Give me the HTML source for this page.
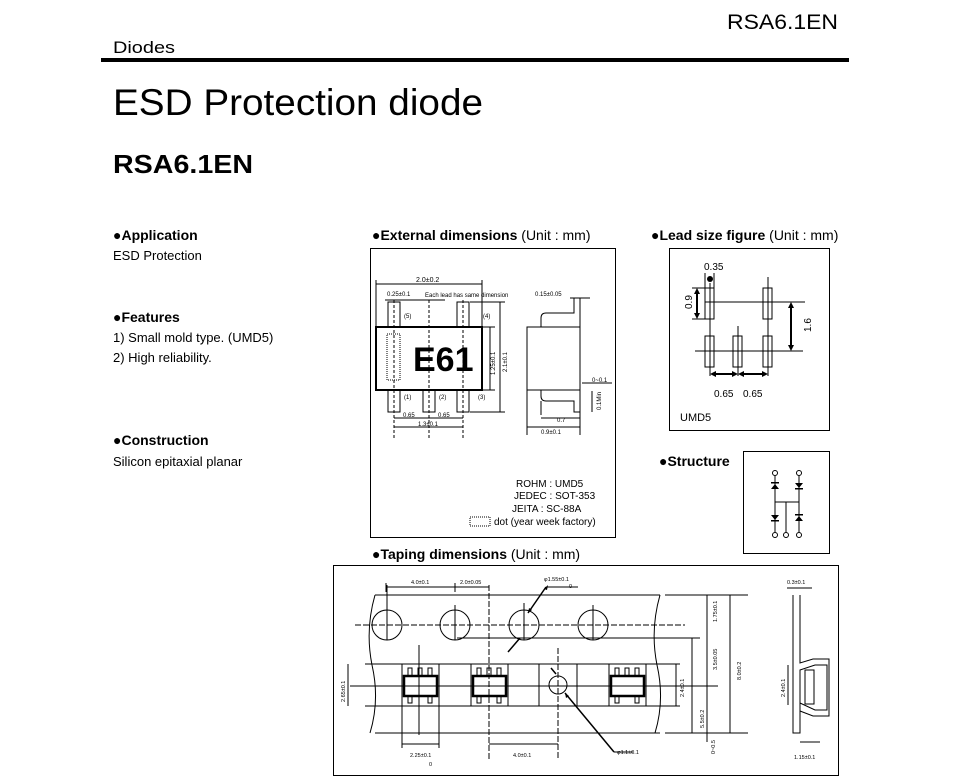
<!DOCTYPE html>
<html><head><meta charset="utf-8"><style>
html,body{margin:0;padding:0;background:#fff}
svg{display:block}
text{font-family:"Liberation Sans",Arial,sans-serif;fill:#000}
</style></head><body>
<svg width="964" height="782" viewBox="0 0 964 782" xmlns="http://www.w3.org/2000/svg">
<!-- header -->
<text x="727" y="29" font-size="21" textLength="111" lengthAdjust="spacingAndGlyphs">RSA6.1EN</text>
<text x="113" y="53" font-size="17" textLength="62" lengthAdjust="spacingAndGlyphs">Diodes</text>
<rect x="101" y="58" width="748" height="4" fill="#000"/>
<text x="113" y="115" font-size="37" textLength="370" lengthAdjust="spacingAndGlyphs">ESD Protection diode</text>
<text x="113" y="173" font-size="26" font-weight="bold" textLength="140" lengthAdjust="spacingAndGlyphs">RSA6.1EN</text>

<!-- left column -->
<g font-size="14">
<text x="113" y="240" font-weight="bold">●Application</text>
<text x="113" y="260" font-size="13">ESD Protection</text>
<text x="113" y="322" font-weight="bold">●Features</text>
<text x="113" y="342" font-size="13">1) Small mold type. (UMD5)</text>
<text x="113" y="362" font-size="13">2) High reliability.</text>
<text x="113" y="445" font-weight="bold">●Construction</text>
<text x="113" y="466" font-size="13">Silicon epitaxial planar</text>
<text x="372" y="240"><tspan font-weight="bold">●External dimensions</tspan> (Unit : mm)</text>
<text x="651" y="240"><tspan font-weight="bold">●Lead size figure</tspan> (Unit : mm)</text>
<text x="659" y="466" font-weight="bold">●Structure</text>
<text x="372" y="559"><tspan font-weight="bold">●Taping dimensions</tspan> (Unit : mm)</text>
</g>

<!-- External dimensions -->
<rect x="370.5" y="248.5" width="245" height="289" fill="none" stroke="#000"/>
<g stroke="#000" fill="none" stroke-width="1">
<rect x="376" y="327" width="106" height="63" stroke-width="2"/>
<rect x="388" y="302" width="12" height="25"/>
<rect x="457" y="302" width="12" height="25"/>
<rect x="388" y="390" width="12" height="22"/>
<rect x="423" y="390" width="12" height="22"/>
<rect x="457" y="390" width="12" height="22"/>
<rect x="387" y="334" width="13" height="46" stroke-dasharray="1,1"/>
<line x1="394" y1="300" x2="394" y2="440" stroke-dasharray="3,2"/>
<line x1="429" y1="300" x2="429" y2="440" stroke-dasharray="3,2"/>
<line x1="463" y1="300" x2="463" y2="440" stroke-dasharray="3,2"/>
<line x1="376" y1="284" x2="482" y2="284"/>
<line x1="376" y1="280" x2="376" y2="327"/><line x1="482" y1="280" x2="482" y2="327"/>
<line x1="385" y1="300" x2="445" y2="300"/>
<line x1="470" y1="302" x2="505" y2="302"/>
<line x1="490" y1="327" x2="490" y2="390"/>
<line x1="500" y1="302" x2="500" y2="412"/>
<line x1="482" y1="327" x2="495" y2="327"/><line x1="482" y1="390" x2="495" y2="390"/>
<line x1="470" y1="412" x2="505" y2="412"/>
<line x1="394" y1="418" x2="463" y2="418"/>
<line x1="394" y1="427" x2="463" y2="427"/>
<!-- side view -->
<path d="M527 327 L580 327 L580 390 L527 390 Z"/>
<path d="M541 327 L541 318 Q541 313 546 313 L574 313 L574 298 L580 298 L580 327"/>
<path d="M541 390 L541 396 Q541 401 546 401 L574 401 L574 412 L580 412 L580 390"/>
<line x1="541" y1="401" x2="541" y2="415"/>
<line x1="527" y1="390" x2="527" y2="435"/>
<line x1="580" y1="412" x2="580" y2="435"/>
<line x1="541" y1="418" x2="580" y2="418"/>
<line x1="527" y1="427" x2="580" y2="427"/>
<line x1="570" y1="298" x2="590" y2="298"/>
<line x1="592" y1="391" x2="592" y2="412"/>
<line x1="582" y1="383" x2="612" y2="383"/>
</g>
<g font-size="6">
<text x="416" y="282" font-size="7">2.0±0.2</text>
<text x="387" y="296">0.25±0.1</text>
<text x="425" y="297">Each lead has same dimension</text>
<text x="404" y="318">(5)</text><text x="483" y="318">(4)</text>
<text x="404" y="399">(1)</text><text x="439" y="399">(2)</text><text x="478" y="399">(3)</text>
<text x="403" y="417">0.65</text><text x="438" y="417">0.65</text>
<text x="418" y="426">1.3±0.1</text>
<text x="535" y="296">0.15±0.05</text>
<text x="592" y="382">0~0.1</text>
<text x="557" y="422">0.7</text>
<text x="541" y="434">0.9±0.1</text>
<text transform="translate(495,375) rotate(-90)">1.25±0.1</text>
<text transform="translate(507,372) rotate(-90)">2.1±0.1</text>
<text transform="translate(601,410) rotate(-90)">0.1Min</text>
</g>
<text x="413" y="371" font-size="34" font-weight="bold">E61</text>
<g font-size="10">
<text x="516" y="487">ROHM : UMD5</text>
<text x="514" y="499">JEDEC : SOT-353</text>
<text x="512" y="512">JEITA : SC-88A</text>
<text x="494" y="525">dot (year week factory)</text>
</g>
<rect x="470" y="517" width="20" height="9" fill="none" stroke="#000" stroke-dasharray="1,1"/>

<!-- Lead size -->
<rect x="669.5" y="248.5" width="160" height="182" fill="none" stroke="#000"/>
<g stroke="#000" fill="none">
<rect x="705" y="288" width="9" height="31"/>
<rect x="763" y="288" width="9" height="31"/>
<rect x="705" y="336" width="9" height="31"/>
<rect x="733" y="336" width="9" height="31"/>
<rect x="763" y="336" width="9" height="31"/>
<line x1="710" y1="283" x2="710" y2="376"/>
<line x1="768" y1="277" x2="768" y2="376"/>
<line x1="738" y1="326" x2="738" y2="376"/>
<line x1="705" y1="302" x2="805" y2="302"/>
<line x1="695" y1="351" x2="803" y2="351"/>
<line x1="692" y1="288" x2="705" y2="288"/><line x1="692" y1="319" x2="705" y2="319"/>
<line x1="705" y1="273" x2="705" y2="288"/><line x1="714" y1="273" x2="714" y2="288"/>
</g>
<g stroke="#000" stroke-width="2">
<line x1="697" y1="291" x2="697" y2="316"/>
<line x1="791" y1="305" x2="791" y2="348"/>
<line x1="713" y1="374" x2="735" y2="374"/>
<line x1="741" y1="374" x2="765" y2="374"/>
</g>
<g fill="#000">
<path d="M697 288 l-3 6 h6z"/><path d="M697 319 l-3 -6 h6z"/>
<path d="M791 302 l-3 6 h6z"/><path d="M791 351 l-3 -6 h6z"/>
<path d="M710 374 l6 -3 v6z"/><path d="M738 374 l-6 -3 v6z"/>
<path d="M738 374 l6 -3 v6z"/><path d="M768 374 l-6 -3 v6z"/>
<circle cx="710" cy="279" r="3"/>
</g>
<g font-size="10">
<text x="704" y="270">0.35</text>
<text x="714" y="397">0.65</text><text x="743" y="397">0.65</text>
<text x="680" y="421" font-size="11">UMD5</text>
<text transform="translate(692,309) rotate(-90)">0.9</text>
<text transform="translate(811,332) rotate(-90)">1.6</text>
</g>

<!-- Structure -->
<rect x="743.5" y="451.5" width="86" height="102" fill="none" stroke="#000"/>
<g stroke="#000" fill="none">
<line x1="775" y1="476" x2="775" y2="532"/>
<line x1="799" y1="476" x2="799" y2="532"/>
<line x1="775" y1="502" x2="799" y2="502"/>
<line x1="786" y1="502" x2="786" y2="532"/>
<circle cx="775" cy="473" r="2.5" fill="#fff"/><circle cx="799" cy="473" r="2.5" fill="#fff"/>
<circle cx="775" cy="535" r="2.5" fill="#fff"/><circle cx="786" cy="535" r="2.5" fill="#fff"/><circle cx="799" cy="535" r="2.5" fill="#fff"/>
</g>
<g fill="#000">
<path d="M771 489 h8 l-4 -5z"/><rect x="771" y="482" width="8" height="1.5"/>
<path d="M795 483 h8 l-4 5z"/><rect x="795" y="488" width="8" height="1.5"/>
<path d="M771 515 h8 l-4 5z"/><rect x="771" y="520" width="8" height="1.5"/>
<path d="M795 521 h8 l-4 -5z"/><rect x="795" y="514" width="8" height="1.5"/>
</g>

<!-- Taping -->
<rect x="333.5" y="565.5" width="505" height="210" fill="none" stroke="#000"/>
<g stroke="#000" fill="none">
<line x1="375" y1="595" x2="660" y2="595"/><line x1="665" y1="595" x2="748" y2="595"/>
<line x1="375" y1="733" x2="660" y2="733"/><line x1="665" y1="733" x2="748" y2="733"/>
<path d="M375 595 Q365 630 372 665 Q380 700 370 733"/>
<path d="M660 595 Q650 630 657 665 Q665 700 655 733"/>
<circle cx="387" cy="625" r="15"/><circle cx="455" cy="625" r="15"/>
<circle cx="524" cy="625" r="15"/><circle cx="593" cy="625" r="15"/>
<line x1="355" y1="625" x2="685" y2="625" stroke-dasharray="6,2"/>
<line x1="387" y1="585" x2="387" y2="640"/><line x1="455" y1="605" x2="455" y2="640"/>
<line x1="524" y1="603" x2="524" y2="640"/><line x1="593" y1="605" x2="593" y2="640"/>
<line x1="489" y1="585" x2="489" y2="760" stroke-dasharray="6,2"/>
<line x1="386" y1="587" x2="489" y2="587"/>
<line x1="386" y1="583" x2="386" y2="592"/><line x1="455" y1="583" x2="455" y2="592"/>
<line x1="457" y1="638" x2="700" y2="638"/>
<line x1="365" y1="664" x2="680" y2="664"/><line x1="365" y1="706" x2="680" y2="706"/>
<line x1="350" y1="686" x2="718" y2="686"/>
<rect x="402" y="664" width="37" height="42"/><rect x="471" y="664" width="37" height="42"/>
<rect x="539" y="664" width="38" height="42"/><rect x="609" y="664" width="37" height="42"/>
<circle cx="558" cy="685" r="9"/>
<line x1="558" y1="648" x2="558" y2="760" stroke-dasharray="6,2"/>
<line x1="419" y1="645" x2="419" y2="735"/>
<line x1="348" y1="664" x2="348" y2="706"/>
<line x1="676" y1="664" x2="676" y2="706"/>
<line x1="692" y1="638" x2="692" y2="733"/>
<line x1="707" y1="595" x2="707" y2="742"/>
<line x1="730" y1="595" x2="730" y2="733"/>
<line x1="402" y1="744" x2="439" y2="744"/>
<line x1="489" y1="744" x2="558" y2="744"/>
<line x1="402" y1="706" x2="402" y2="748"/><line x1="439" y1="706" x2="439" y2="748"/>
<line x1="546" y1="587" x2="528" y2="613" stroke-width="1.5"/>
<line x1="546" y1="587" x2="578" y2="587"/>
<line x1="520" y1="638" x2="508" y2="652" stroke-width="1.5"/>
<line x1="551" y1="668" x2="556" y2="674" stroke-width="1.5"/>
<line x1="565" y1="693" x2="614" y2="752" stroke-width="1.5"/>
<line x1="614" y1="752" x2="633" y2="752"/>
<!-- side -->
<path d="M793 595 L793 733 L800 733 L800 670 L815 665 L827 665 L827 710 L815 710 L800 703"/>
<path d="M800 595 L800 663 L813 659 L829 659 L829 716 L813 716 L800 711"/>
<rect x="805" y="670" width="9" height="34"/>
<line x1="788" y1="665" x2="788" y2="705"/>
<line x1="800" y1="742" x2="820" y2="742"/>
<line x1="787" y1="588" x2="812" y2="588"/>
</g>
<g fill="#000"><path d="M548 585 l-4 4 3 1z"/><path d="M528 613 l1-5 3 2z"/><path d="M565 693 l1 5 3-2z"/></g>
<g font-size="5.5">
<text x="411" y="584">4.0±0.1</text><text x="460" y="584">2.0±0.05</text>
<text x="544" y="581">φ1.55±0.1</text><text x="569" y="588">0</text>
<text x="410" y="757">2.25±0.1</text><text x="429" y="766">0</text>
<text x="513" y="757">4.0±0.1</text>
<text x="617" y="754">φ1.1±0.1</text>
<text x="787" y="584">0.3±0.1</text>
<text x="794" y="759">1.15±0.1</text>
<text transform="translate(345,702) rotate(-90)">2.65±0.1</text>
<text transform="translate(684,697) rotate(-90)">2.4±0.1</text>
<text transform="translate(704,728) rotate(-90)">5.5±0.2</text>
<text transform="translate(717,670) rotate(-90)">3.5±0.05</text>
<text transform="translate(717,622) rotate(-90)">1.75±0.1</text>
<text transform="translate(741,680) rotate(-90)">8.0±0.2</text>
<text transform="translate(715,754) rotate(-90)">0~0.5</text>
<text transform="translate(785,697) rotate(-90)">2.4±0.1</text>
</g>
<!-- chips in pockets -->
<g stroke="#000" fill="none">
<rect x="404" y="676" width="33" height="20" stroke-width="2.5"/>
<rect x="473" y="676" width="33" height="20" stroke-width="2.5"/>
<rect x="611" y="676" width="33" height="20" stroke-width="2.5"/>
<rect x="408" y="668" width="4" height="8"/><rect x="418" y="668" width="4" height="8"/><rect x="428" y="668" width="4" height="8"/>
<rect x="408" y="696" width="4" height="7"/><rect x="428" y="696" width="4" height="7"/>
<rect x="477" y="668" width="4" height="8"/><rect x="487" y="668" width="4" height="8"/><rect x="497" y="668" width="4" height="8"/>
<rect x="477" y="696" width="4" height="7"/><rect x="497" y="696" width="4" height="7"/>
<rect x="615" y="668" width="4" height="8"/><rect x="625" y="668" width="4" height="8"/><rect x="635" y="668" width="4" height="8"/>
<rect x="615" y="696" width="4" height="7"/><rect x="635" y="696" width="4" height="7"/>
</g>
</svg>
</body></html>
